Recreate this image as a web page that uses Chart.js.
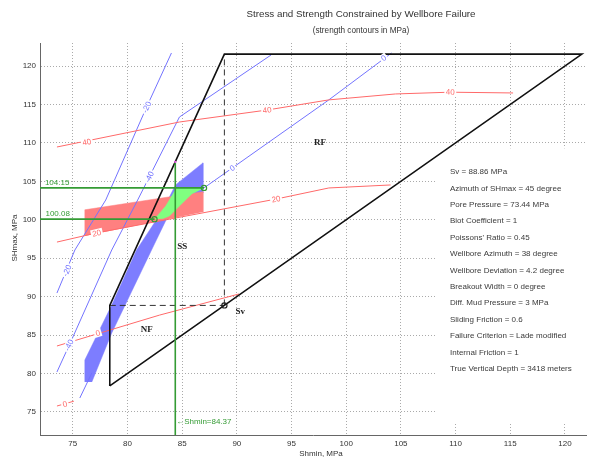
<!DOCTYPE html>
<html>
<head>
<meta charset="utf-8">
<script src="https://cdn.jsdelivr.net/npm/chart.js@4.4.0/dist/chart.umd.min.js"></script>
<style>
  html, body { margin: 0; padding: 0; background: #fff; }
  #wrap { width: 592px; height: 462px; }
</style>
</head>
<body>
<div id="wrap"><canvas id="myChart" width="592" height="462"></canvas></div>
<script>
// axis ticks
const xTicks = [75, 80, 85, 90, 95, 100, 105, 110, 115, 120];
const yTicks = [75, 80, 85, 90, 95, 100, 105, 110, 115, 120];

// stress polygon (NF / SS / RF limits) and Sv
const polygonPts = [[78.38, 78.38], [78.38, 88.86], [88.86, 121.55], [121.55, 121.55], [78.38, 78.38]];
const svDashH = [[78.38, 88.86], [88.86, 88.86]];
const svDashV = [[88.86, 88.86], [88.86, 121.55]];
const svPoint = [[88.86, 88.86]];

// filled regions
const blueZone = [[76.1, 78.9], [76.1, 81.76], [78.56, 88.91], [80.83, 96.07], [82.75, 100.23], [83.6, 102.3],
  [84.39, 104.53], [86.9, 107.4], [86.9, 103.5], [85.0, 101.6], [83.66, 100.36], [82.2, 96.07], [78.56, 85.27], [76.74, 78.9]];
const redZone = [[76.1, 97.9], [76.1, 101.3], [86.9, 103.65], [86.9, 101.0]];
const greenZone = [[82.47, 100.08], [83.5, 101.8], [84.05, 103.1], [84.5, 104.2], [87.0, 104.15],
  [85.9, 103.4], [84.75, 101.8], [83.84, 100.5], [83.2, 100.15]];

// constrained values
const greenHigh = [[72, 104.15], [87.0, 104.15]];
const greenLow = [[72, 100.08], [82.47, 100.08]];
const greenVert = [[84.37, 72], [84.37, 107.54]];
const greenCircles = [[82.47, 100.08], [87.0, 104.15]];
const ssTop = [[84.37, 107.54]];

// strength contours
const red40 = [[73.55, 109.47], [84.75, 112.72], [92.77, 114.28], [98.41, 115.6], [104.5, 116.37], [109.5, 116.6], [115.26, 116.5]];
const red20 = [[73.55, 97.1], [77.2, 98.3], [93.6, 102.7], [98.41, 104.14], [104.06, 104.53]];
const red0 = [[73.55, 83.58], [82.93, 87.6], [90.2, 90.35]];
const red0b = [[73.55, 75.77], [75.1, 76.4]];
const blueM20 = [[73.55, 90.47], [75.19, 96.07], [78.01, 102.57], [81.75, 114.67], [84.02, 121.7]];
const blueM40 = [[73.55, 80.2], [75.01, 84.75], [78.56, 96.07], [80.93, 102.57], [84.75, 113.37], [93.13, 121.44]];
const blue0 = [[87.0, 104.15], [98.41, 115.6], [104.15, 121.7]];
const blueLow = [[75.64, 76.81], [76.74, 80.07]];

// contour label spots
const red40Labels = [[76.28, 110.12], [92.77, 114.28], [109.52, 116.63]];
const red20Labels = [[77.19, 98.28], [93.58, 102.7]];
const red0Labels = [[77.28, 85.27]];
const red0bLabels = [[74.28, 76.03]];
const blueM20Labels = [[74.46, 93.4], [81.75, 114.67]];
const blueM40Labels = [[74.64, 83.7], [82.0, 105.57]];
const blue0Labels = [[89.58, 106.74], [103.42, 121.05]];

const regimeNames = ['RF', 'SS', 'NF', 'Sv'];
const regimeAt = [[97.6, 110.0], [85.0, 96.46], [81.75, 85.66], [90.3, 88.1]];

const infoLines = [
  'Sv = 88.86 MPa',
  'Azimuth of SHmax = 45 degree',
  'Pore Pressure = 73.44 MPa',
  'Biot Coefficient = 1',
  "Poissons' Ratio = 0.45",
  'Wellbore Azimuth = 38 degree',
  'Wellbore Deviation = 4.2 degree',
  'Breakout Width = 0 degree',
  'Diff. Mud Pressure = 3 MPa',
  'Sliding Friction = 0.6',
  'Failure Criterion = Lade modified',
  'Internal Friction = 1',
  'True Vertical Depth = 3418 meters'
];

const RED = 'rgb(255,105,105)';
const BLUE = 'rgb(115,115,255)';
const DKGREEN = 'rgb(52,155,52)';
const SANS = '"Liberation Sans", Arial, sans-serif';

const pts = arr => arr.map(p => ({ x: p[0], y: p[1] }));

function lineSet(arr, color, width, order, extra) {
  return Object.assign({
    data: pts(arr), showLine: true, fill: false, borderColor: color, borderWidth: width,
    pointRadius: 0, tension: 0, order: order
  }, extra || {});
}
function fillSet(arr, color, order) {
  return {
    data: pts(arr), showLine: true, fill: 'shape', backgroundColor: color,
    borderColor: color, borderWidth: 0.5, pointRadius: 0, tension: 0, order: order
  };
}

const contours = [
  { pts: red40, labels: red40Labels, level: '40', color: RED },
  { pts: red20, labels: red20Labels, level: '20', color: RED },
  { pts: red0, labels: red0Labels, level: '0', color: RED },
  { pts: red0b, labels: red0bLabels, level: '0', color: RED },
  { pts: blueM20, labels: blueM20Labels, level: '-20', color: BLUE },
  { pts: blueM40, labels: blueM40Labels, level: '-40', color: BLUE },
  { pts: blue0, labels: blue0Labels, level: '0', color: BLUE }
];

function segAngle(chart, line, at) {
  const sx = chart.scales.x, sy = chart.scales.y;
  const px = sx.getPixelForValue(at[0]), py = sy.getPixelForValue(at[1]);
  let best = null, bestD = Infinity;
  for (let i = 0; i < line.length - 1; i++) {
    const ax = sx.getPixelForValue(line[i][0]), ay = sy.getPixelForValue(line[i][1]);
    const bx = sx.getPixelForValue(line[i + 1][0]), by = sy.getPixelForValue(line[i + 1][1]);
    const mx = (ax + bx) / 2, my = (ay + by) / 2;
    const d = Math.hypot(mx - px, my - py) - Math.hypot(bx - ax, by - ay) / 2;
    if (d < bestD) { bestD = d; best = [ax, ay, bx, by]; }
  }
  let a = Math.atan2(best[3] - best[1], best[2] - best[0]);
  if (a > Math.PI / 2) a -= Math.PI;
  if (a < -Math.PI / 2) a += Math.PI;
  return a;
}

const annotations = {
  id: 'annotations',
  beforeDatasetsDraw(chart) {
    // white panel behind the parameter list
    const { ctx, scales: { x, y } } = chart;
    const left = x.getPixelForValue(108.2), top = y.getPixelForValue(109.3), bottom = y.getPixelForValue(73.55);
    ctx.save();
    ctx.fillStyle = '#fff';
    ctx.fillRect(left, top, chart.width - left, bottom - top);
    ctx.restore();
  },
  afterDatasetsDraw(chart) {
    const { ctx, scales: { x, y } } = chart;
    ctx.save();
    ctx.textAlign = 'center';
    ctx.textBaseline = 'middle';
    ctx.font = '8px ' + SANS;
    contours.forEach(c => {
      c.labels.forEach(at => {
        const px = x.getPixelForValue(at[0]), py = y.getPixelForValue(at[1]);
        const ang = segAngle(chart, c.pts, at);
        const w = ctx.measureText(c.level).width + 3;
        ctx.save();
        ctx.translate(px, py);
        ctx.rotate(ang);
        ctx.fillStyle = '#fff';
        ctx.fillRect(-w / 2, -4, w, 8);
        ctx.fillStyle = c.color;
        ctx.fillText(c.level, 0, 0.5);
        ctx.restore();
      });
    });
    // regime labels
    ctx.font = 'bold 9px "Liberation Serif", "Times New Roman", serif';
    ctx.fillStyle = '#222';
    regimeNames.forEach((t, i) => {
      ctx.fillText(t, x.getPixelForValue(regimeAt[i][0]), y.getPixelForValue(regimeAt[i][1]));
    });
    // constrained values
    ctx.font = '8px ' + SANS;
    ctx.fillStyle = DKGREEN;
    ctx.textAlign = 'left';
    ctx.textBaseline = 'alphabetic';
    ctx.fillText(greenHigh[0][1].toFixed(2), x.getPixelForValue(72.45), y.getPixelForValue(104.5));
    ctx.fillText(greenLow[0][1].toFixed(2), x.getPixelForValue(72.5), y.getPixelForValue(100.45));
    ctx.textBaseline = 'middle';
    ctx.fillText('\u2190Shmin=' + greenVert[0][0].toFixed(2), x.getPixelForValue(84.45), y.getPixelForValue(73.7));
    ctx.restore();
  },
  afterDraw(chart) {
    const { ctx } = chart;
    ctx.save();
    ctx.fillStyle = '#333';
    ctx.textAlign = 'center';
    ctx.textBaseline = 'middle';
    ctx.font = '9.8px ' + SANS;
    ctx.fillText('Stress and Strength Constrained by Wellbore Failure', 361, 14);
    ctx.font = '8.2px ' + SANS;
    ctx.fillText('(strength contours in MPa)', 361, 31);
    ctx.font = '8px ' + SANS;
    ctx.fillText('Shmin, MPa', 321, 454);
    ctx.save();
    ctx.translate(15, 238);
    ctx.rotate(-Math.PI / 2);
    ctx.fillText('SHmax, MPa', 0, 0);
    ctx.restore();
    ctx.textAlign = 'left';
    ctx.fillStyle = '#3a3a3a';
    infoLines.forEach((t, i) => ctx.fillText(t, 450, 172 + i * 16.4));
    ctx.restore();
  }
};

const datasets = [
  // markers on top
  lineSet(greenCircles, DKGREEN, 0, 0, { showLine: false, pointRadius: 2.6, pointBorderColor: DKGREEN, pointBackgroundColor: 'rgba(0,0,0,0)', pointBorderWidth: 1.2 }),
  lineSet(svPoint, '#222', 0, 0, { showLine: false, pointRadius: 2.6, pointBorderColor: '#222', pointBackgroundColor: 'rgba(0,0,0,0)', pointBorderWidth: 1.2 }),
  lineSet(ssTop, 'rgb(230,90,230)', 0, 0, { showLine: false, pointRadius: 1.2, pointBackgroundColor: 'rgb(230,90,230)', pointBorderWidth: 0 }),
  // green constraint lines
  lineSet(greenHigh, DKGREEN, 1.6, 1),
  lineSet(greenLow, DKGREEN, 1.6, 1),
  lineSet(greenVert, DKGREEN, 1.6, 1),
  // stress polygon
  lineSet(polygonPts, '#111', 1.6, 2),
  lineSet(svDashH, '#333', 1, 2, { borderDash: [6, 4] }),
  lineSet(svDashV, '#333', 1, 2, { borderDash: [6, 4] }),
  // contours
  lineSet(red40, RED, 1, 3),
  lineSet(red20, RED, 1, 3),
  lineSet(red0, RED, 1, 3),
  lineSet(red0b, RED, 1, 3),
  lineSet(blueM20, BLUE, 1, 3),
  lineSet(blueM40, BLUE, 1, 3),
  lineSet(blue0, BLUE, 1, 3),
  lineSet(blueLow, BLUE, 1, 3),
  // filled regions
  fillSet(greenZone, 'rgb(128,255,128)', 4),
  fillSet(redZone, 'rgb(255,128,128)', 5),
  fillSet(blueZone, 'rgb(125,125,255)', 6)
];

const ctx = document.getElementById('myChart').getContext('2d');
const myChart = new Chart(ctx, {
  type: 'scatter',
  data: { datasets: datasets },
  options: {
    responsive: false,
    animation: false,
    events: [],
    layout: { padding: { left: 0, top: 43, right: 2, bottom: 0 } },
    plugins: { legend: { display: false }, tooltip: { enabled: false } },
    scales: {
      x: {
        type: 'linear', min: 72, max: 122,
        afterBuildTicks: s => { s.ticks = xTicks.map(v => ({ value: v })); },
        afterFit: s => { s.height = 27; },
        ticks: { color: '#333', font: { size: 8, family: SANS }, padding: 4, maxRotation: 0, autoSkip: false },
        grid: { color: '#aaaaaa', lineWidth: 1, drawTicks: false },
        border: { color: '#666', width: 1, dash: [1, 2] }
      },
      y: {
        type: 'linear', min: 72, max: 123,
        afterBuildTicks: s => { s.ticks = yTicks.map(v => ({ value: v })); },
        afterFit: s => { s.width = 40; },
        ticks: { color: '#333', font: { size: 8, family: SANS }, padding: 4, autoSkip: false },
        grid: { color: '#aaaaaa', lineWidth: 1, drawTicks: false },
        border: { color: '#666', width: 1, dash: [1, 2] }
      }
    }
  },
  plugins: [annotations]
});
</script>
</body>
</html>
